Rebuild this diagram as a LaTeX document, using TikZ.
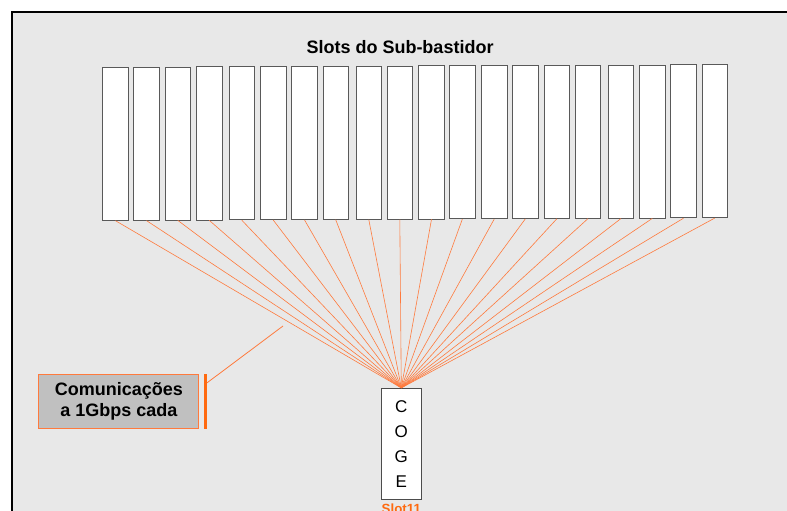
\documentclass[tikz,border=0pt]{standalone}
\usepackage{fontspec}
\setmainfont{Liberation Sans}
\usetikzlibrary{calc}
\definecolor{linkorange}{HTML}{FF7A3D}
\definecolor{barorange}{HTML}{FF6A10}
\definecolor{panelgray}{HTML}{E8E8E8}
\definecolor{notegray}{HTML}{C0C0C0}
\newcommand{\slotlink}[1]{\draw[linkorange, line width=0.6pt] (#1.south) -- (coge.north)}

\begin{document}
\begin{tikzpicture}[x=1pt, y=-1pt,
    slot/.style={draw=black!65, line width=0.8pt, fill=white, minimum width=25.5pt, minimum height=153pt, inner sep=0pt}]
                \useasboundingbox (0,0) rectangle (787,511);
                \clip (0,0) rectangle (787,511);
                \fill[white] (0,0) rectangle (787,511);
                \draw[fill=panelgray, line width=2pt] (12,12) rectangle (820,540);

                \node (title) at (400,47) {\bfseries\fontsize{18}{20}\selectfont Slots do Sub-bastidor};

                \node[slot] (s1) at (115.5,143.8) {};
                \node[slot] (s2) at (146.5,143.7) {};
                \node[slot] (s3) at (177.8,143.5) {};
                \node[slot] (s4) at (209.2,143.4) {};
                \node[slot] (s5) at (241.8,143.3) {};
                \node[slot] (s6) at (273.2,143.1) {};
                \node[slot] (s7) at (304.5,143.0) {};
                \node[slot] (s8) at (335.7,142.8) {};
                \node[slot] (s9) at (368.8,142.7) {};
                \node[slot] (s10) at (399.8,142.6) {};
                \node[slot] (s11) at (431.5,142.4) {};
                \node[slot] (s12) at (462.3,142.3) {};
                \node[slot] (s13) at (494.2,142.2) {};
                \node[slot] (s14) at (525.3,142.0) {};
                \node[slot] (s15) at (556.8,141.9) {};
                \node[slot] (s16) at (588.0,141.7) {};
                \node[slot] (s17) at (621.0,141.6) {};
                \node[slot] (s18) at (652.3,141.5) {};
                \node[slot] (s19) at (683.5,141.3) {};
                \node[slot] (s20) at (714.7,141.2) {};

                \node[draw=black!70, line width=0.8pt, fill=white, minimum width=40pt, minimum height=111pt,
                      inner sep=0pt, align=center, font=\fontsize{17}{25}\selectfont] (coge) at (401.3,443.8) {C\\O\\G\\E};
                \node[anchor=base, text=barorange, font=\bfseries\fontsize{13.3}{15}\selectfont] (slotname) at (401.3,513.5) {Slot11};

                \slotlink{s1};
                \slotlink{s2};
                \slotlink{s3};
                \slotlink{s4};
                \slotlink{s5};
                \slotlink{s6};
                \slotlink{s7};
                \slotlink{s8};
                \slotlink{s9};
                \slotlink{s10};
                \slotlink{s11};
                \slotlink{s12};
                \slotlink{s13};
                \slotlink{s14};
                \slotlink{s15};
                \slotlink{s16};
                \slotlink{s17};
                \slotlink{s18};
                \slotlink{s19};
                \slotlink{s20};

                \node[draw=linkorange, line width=1pt, fill=notegray, minimum width=160pt, minimum height=54.5pt,
                      align=center, font=\bfseries\fontsize{18}{21.7}\selectfont] (info) at (118.8,401.3) {Comunicações\\a 1Gbps cada};
                \node[fill=barorange, minimum width=3pt, minimum height=54.5pt, inner sep=0pt] (bar) at (205.3,401.3) {};
                \coordinate (tip) at (283,326);
                \draw[linkorange, line width=0.8pt] ($(bar.north east)+(0,9)$) -- (tip);
            \end{tikzpicture}
\end{document}
